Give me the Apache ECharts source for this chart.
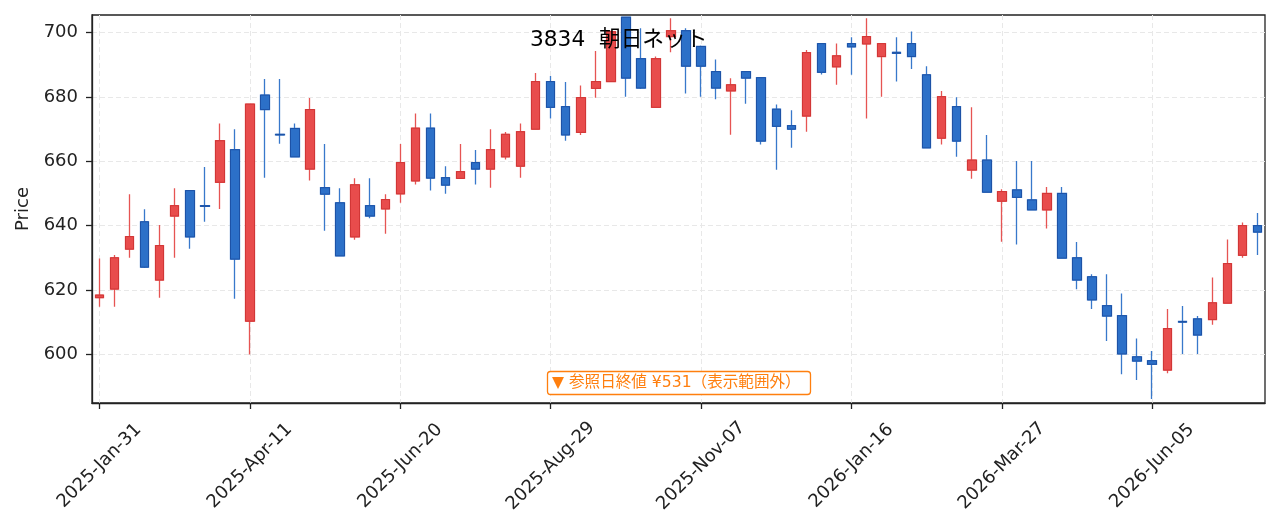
<!DOCTYPE html>
<html lang="ja">
<head>
<meta charset="utf-8">
<title>3834 朝日ネット</title>
<script src="https://cdn.jsdelivr.net/npm/echarts@6.0.0/dist/echarts.min.js"></script>
<style>
  html, body { margin: 0; padding: 0; background: #fff; }
  #chart { width: 1279px; height: 532px; }
</style>
</head>
<body>
<div id="chart"></div>
<script>
// 週足 (金曜日)
var dates = [
  '2025-01-31','2025-02-07','2025-02-14','2025-02-21','2025-02-28','2025-03-07','2025-03-14','2025-03-21','2025-03-28','2025-04-04',
  '2025-04-11','2025-04-18','2025-04-25','2025-05-02','2025-05-09','2025-05-16','2025-05-23','2025-05-30','2025-06-06','2025-06-13',
  '2025-06-20','2025-06-27','2025-07-04','2025-07-11','2025-07-18','2025-07-25','2025-08-01','2025-08-08','2025-08-15','2025-08-22',
  '2025-08-29','2025-09-05','2025-09-12','2025-09-19','2025-09-26','2025-10-03','2025-10-10','2025-10-17','2025-10-24','2025-10-31',
  '2025-11-07','2025-11-14','2025-11-21','2025-11-28','2025-12-05','2025-12-12','2025-12-19','2025-12-26','2026-01-02','2026-01-09',
  '2026-01-16','2026-01-23','2026-01-30','2026-02-06','2026-02-13','2026-02-20','2026-02-27','2026-03-06','2026-03-13','2026-03-20',
  '2026-03-27','2026-04-03','2026-04-10','2026-04-17','2026-04-24','2026-05-01','2026-05-08','2026-05-15','2026-05-22','2026-05-29',
  '2026-06-05','2026-06-12','2026-06-19','2026-06-26','2026-07-03','2026-07-10','2026-07-17','2026-07-24'
];
var opens = [
  617.6, 620.3, 632.7, 641.2, 623.1, 643.0, 650.9, 646.2, 653.5, 663.6,
  610.3, 680.6, 668.4, 670.2, 657.6, 651.8, 647.1, 636.5, 646.2, 645.2,
  649.9, 653.9, 670.3, 654.9, 654.7, 659.6, 657.6, 661.4, 658.5, 670.0,
  684.8, 677.0, 669.0, 682.7, 684.8, 704.8, 691.9, 676.8, 698.8, 700.6,
  695.7, 687.9, 681.9, 687.9, 686.0, 676.2, 671.1, 674.1, 696.6, 689.4,
  696.6, 696.5, 692.6, 693.9, 696.6, 686.9, 667.2, 677.0, 657.3, 660.4,
  647.6, 651.1, 648.0, 644.9, 650.0, 630.0, 624.1, 615.1, 612.0, 599.2,
  598.0, 595.1, 610.2, 611.0, 610.8, 615.9, 630.8, 640.0
];
var closes = [
  618.4, 630.0, 636.6, 627.1, 633.8, 646.2, 636.5, 646.0, 666.4, 629.6,
  677.8, 676.1, 668.2, 661.4, 676.1, 649.8, 630.6, 652.7, 643.0, 648.1,
  659.6, 670.3, 654.8, 652.6, 656.8, 657.6, 663.6, 668.4, 669.2, 684.8,
  676.8, 668.2, 679.8, 684.8, 700.3, 685.9, 682.8, 691.9, 700.6, 689.6,
  689.6, 682.8, 683.8, 685.9, 666.3, 670.9, 670.0, 693.8, 687.7, 692.8,
  695.6, 698.8, 696.6, 693.6, 692.6, 664.2, 680.1, 666.3, 660.4, 650.4,
  650.6, 648.8, 644.9, 650.0, 629.9, 623.1, 616.9, 611.9, 600.1, 597.9,
  596.9, 608.0, 610.0, 606.0, 616.0, 628.2, 640.0, 638.0
];
var lows = [
  614.8, 614.8, 630.0, 626.8, 617.6, 630.0, 632.8, 641.2, 645.2, 617.3,
  599.9, 654.9, 665.5, 661.2, 654.0, 638.4, 630.4, 635.6, 642.3, 637.5,
  647.1, 652.8, 650.9, 649.9, 654.5, 652.8, 651.8, 660.6, 654.9, 669.8,
  673.3, 666.4, 668.2, 679.8, 684.6, 680.1, 682.5, 676.6, 693.9, 681.1,
  680.1, 679.3, 668.3, 677.9, 665.2, 657.4, 664.2, 669.2, 687.0, 683.8,
  686.9, 673.3, 680.1, 684.8, 688.7, 664.0, 665.2, 661.4, 654.6, 650.2,
  635.0, 634.1, 644.7, 639.1, 629.7, 620.2, 614.1, 604.1, 593.8, 592.0,
  586.1, 594.1, 600.1, 600.1, 609.2, 615.7, 630.0, 630.9
];
var highs = [
  629.8, 630.9, 649.8, 645.1, 640.2, 651.6, 650.9, 658.2, 671.8, 670.0,
  678.0, 685.6, 685.6, 671.8, 679.7, 665.4, 651.6, 654.7, 654.7, 649.8,
  665.4, 674.9, 674.9, 658.5, 665.4, 663.5, 670.0, 669.1, 671.8, 687.5,
  686.5, 684.7, 683.6, 694.3, 700.6, 705.0, 701.4, 692.6, 704.5, 701.4,
  696.0, 691.7, 685.8, 688.1, 686.2, 677.7, 675.9, 694.6, 696.8, 696.6,
  698.6, 704.5, 696.8, 698.6, 700.4, 689.6, 681.9, 679.9, 676.8, 668.2,
  651.3, 660.1, 660.1, 652.0, 652.0, 634.9, 624.9, 624.9, 618.9, 604.9,
  601.0, 614.1, 615.0, 611.9, 623.9, 635.7, 641.0, 643.9
];
var priceTicks = [600, 620, 640, 660, 680, 700];
var monthNames = ['Jan','Feb','Mar','Apr','May','Jun','Jul','Aug','Sep','Oct','Nov','Dec'];

var FONT = '"DejaVu Sans", "Noto Sans CJK JP", sans-serif';
var UP = '#e84c4c', UP_EDGE = '#d13636', UP_WICK = '#e65453';
var DOWN = '#2c70c8', DOWN_EDGE = '#1d52a6', DOWN_WICK = '#3878cb';

var fullData = [], bodyData = [];
for (var i = 0; i < dates.length; i++) {
  fullData.push([opens[i], closes[i], lows[i], highs[i]]);
  bodyData.push([opens[i], closes[i], Math.min(opens[i], closes[i]), Math.max(opens[i], closes[i])]);
}

function fmtDate(s) {
  var p = s.split('-');
  return p[0] + '-' + monthNames[parseInt(p[1], 10) - 1] + '-' + p[2];
}

var chart = echarts.init(document.getElementById('chart'), null, { renderer: 'canvas' });
var option = {
  animation: false,
  backgroundColor: '#fff',
  textStyle: { fontFamily: FONT },
  title: [
    {
      text: '3834  朝日ネット',
      left: 530, top: 27, padding: 0,
      textStyle: { fontFamily: FONT, fontSize: 21.7, fontWeight: 'normal', color: '#000', lineHeight: 26 }
    },
    {
      text: '▼ 参照日終値 ¥531（表示範囲外）',
      left: 547, top: 371, padding: [3, 10, 3, 5],
      borderColor: '#ff7f0e', borderWidth: 1.3, borderRadius: 3, backgroundColor: '#fff',
      textStyle: { fontFamily: FONT, fontSize: 15.6, fontWeight: 'normal', color: '#ff7f0e', lineHeight: 18 }
    }
  ],
  grid: {
    left: 92, right: 14, top: 15, bottom: 129,
    show: true, borderColor: '#222', borderWidth: 1.3, backgroundColor: 'transparent',
    outerBoundsMode: 'none'
  },
  xAxis: {
    type: 'category',
    data: dates,
    boundaryGap: true,
    axisLine: { show: true, lineStyle: { color: '#222', width: 1.3 } },
    axisTick: { show: true, interval: 9, alignWithLabel: true, length: 6, lineStyle: { color: '#222', width: 1.3 } },
    axisLabel: {
      interval: 9, rotate: 45, align: 'center', verticalAlign: 'middle', margin: 63,
      fontSize: 18, color: '#222', fontFamily: FONT,
      formatter: function (v) { return fmtDate(v); }
    },
    splitLine: { show: true, interval: 9, alignWithLabel: true, lineStyle: { color: '#e8e8e8', width: 1, type: [5, 3] } }
  },
  yAxis: {
    type: 'value',
    min: 584.85, max: 705.5,
    name: 'Price', nameLocation: 'middle', nameGap: 55, nameRotate: 90,
    nameTextStyle: { fontSize: 18, color: '#222', fontFamily: FONT },
    axisLine: { show: true, lineStyle: { color: '#222', width: 1.3 } },
    axisTick: { show: true, length: 6, customValues: priceTicks, lineStyle: { color: '#222', width: 1.3 } },
    axisLabel: {
      customValues: priceTicks,
      margin: 14, fontSize: 18, color: '#222', fontFamily: FONT
    },
    splitLine: { show: true, lineStyle: { color: '#e8e8e8', width: 1, type: [5, 3] } }
  },
  series: [
    {
      name: 'range',
      type: 'candlestick',
      data: fullData,
      barWidth: 9,
      itemStyle: { color: UP, color0: DOWN, borderColor: UP_WICK, borderColor0: DOWN_WICK, borderWidth: 1.3 }
    },
    {
      name: 'body',
      type: 'candlestick',
      data: bodyData,
      barWidth: 9,
      itemStyle: { color: UP, color0: DOWN, borderColor: UP_EDGE, borderColor0: DOWN_EDGE, borderWidth: 1 }
    }
  ]
};
chart.setOption(option);
</script>
</body>
</html>
